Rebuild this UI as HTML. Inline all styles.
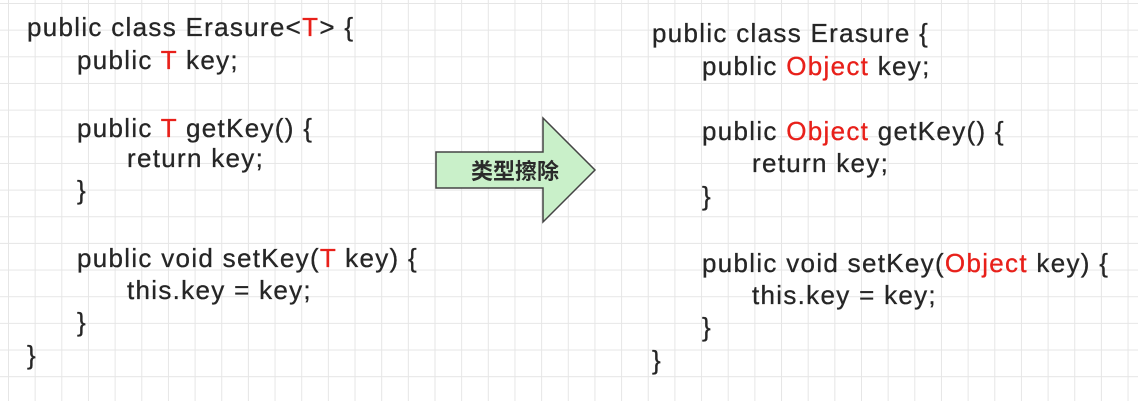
<!DOCTYPE html>
<html><head><meta charset="utf-8"><style>
body{margin:0;width:1138px;height:401px;overflow:hidden;position:relative;
background-color:#fff;
background-image:linear-gradient(to right,#e6e6e6 1px,transparent 1px),linear-gradient(to bottom,#e6e6e6 1px,transparent 1px);
background-size:26.67px 26.67px;background-position:8px 3px;}
.l{position:absolute;font-family:"Liberation Sans",sans-serif;font-size:26px;letter-spacing:1.3px;color:#262626;white-space:pre;line-height:30px;height:30px;-webkit-text-stroke:0.3px #262626}
.r{color:#e8201a;-webkit-text-stroke:0.3px #e8201a}
</style></head><body>
<div class="l" style="left:27px;top:12px">public class Erasure&lt;<span class="r">T</span>&gt; {</div>
<div class="l" style="left:77px;top:45px">public <span class="r">T</span> key;</div>
<div class="l" style="left:77px;top:113px">public <span class="r">T</span> getKey() {</div>
<div class="l" style="left:127px;top:143px">return key;</div>
<div class="l" style="left:77px;top:175px">}</div>
<div class="l" style="left:77px;top:243px">public void setKey(<span class="r">T</span> key) {</div>
<div class="l" style="left:127px;top:275px">this.key = key;</div>
<div class="l" style="left:77px;top:307px">}</div>
<div class="l" style="left:27px;top:340px">}</div>

<div class="l" style="left:652px;top:18px">public class Erasure {</div>
<div class="l" style="left:702px;top:51px">public <span class="r">Object</span> key;</div>
<div class="l" style="left:702px;top:116px">public <span class="r">Object</span> getKey() {</div>
<div class="l" style="left:752px;top:148px">return key;</div>
<div class="l" style="left:702px;top:181px">}</div>
<div class="l" style="left:702px;top:248px">public void setKey(<span class="r">Object</span> key) {</div>
<div class="l" style="left:752px;top:280px">this.key = key;</div>
<div class="l" style="left:702px;top:312px">}</div>
<div class="l" style="left:652px;top:345px">}</div>

<svg style="position:absolute;left:0;top:0" width="1138" height="401">
<polygon points="436,152 543,152 543,118 595,170 543,222 543,188 436,188" fill="#c9f0c9" stroke="#444" stroke-width="1.5"/>
<text x="515" y="179" text-anchor="middle" font-family="Noto Sans CJK SC,sans-serif" font-size="22" font-weight="bold" fill="#2a2a2a">类型擦除</text>
</svg>
</body></html>
